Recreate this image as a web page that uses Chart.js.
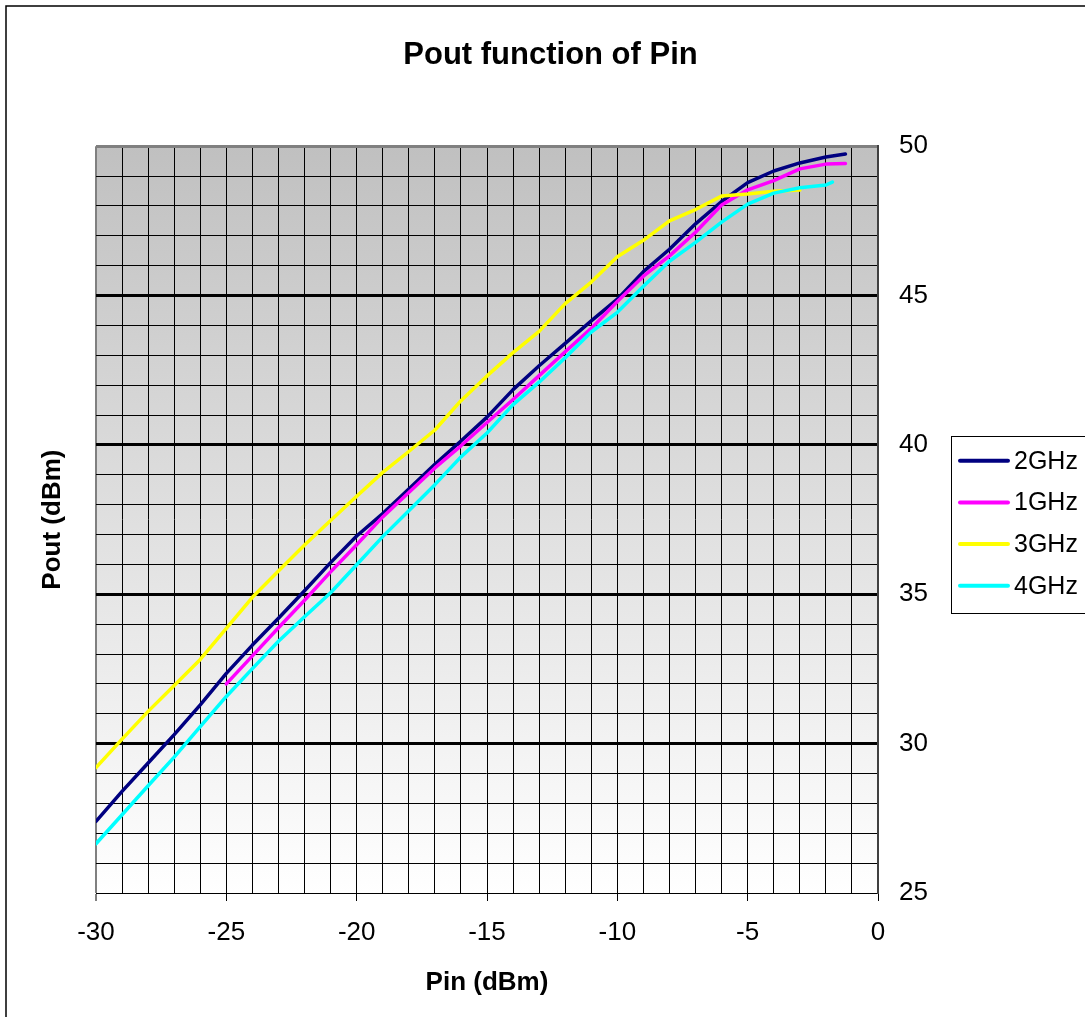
<!DOCTYPE html>
<html>
<head>
<meta charset="utf-8">
<title>Pout function of Pin</title>
<script src="https://cdn.jsdelivr.net/npm/chart.js@4/dist/chart.umd.min.js"></script>
<style>
  html, body { margin: 0; padding: 0; background: #fff; }
  canvas { display: block; }
</style>
</head>
<body>
<canvas id="poutChart" width="1085" height="1017"></canvas>
<script>
// Measured curves, Pin (dBm) -> Pout (dBm)
const pin2GHz = [-30, -29, -28, -27, -26, -25, -24, -23, -22, -21, -20, -19, -18, -17, -16, -15, -14, -13, -12, -11, -10, -9, -8, -7, -6, -5, -4, -3, -2, -1.25];
const pout2GHz = [27.4, 28.4, 29.35, 30.3, 31.3, 32.35, 33.3, 34.2, 35.12, 36.06, 36.95, 37.7, 38.52, 39.35, 40.13, 40.93, 41.85, 42.65, 43.4, 44.15, 44.88, 45.8, 46.55, 47.4, 48.15, 48.78, 49.17, 49.44, 49.64, 49.74];

const pin1GHz = [-25, -24, -23, -22, -21, -20, -19, -18, -17, -16, -15, -14, -13, -12, -11, -10, -9, -8, -7, -6, -5, -4, -3, -2, -1.25];
const pout1GHz = [32.0, 32.94, 33.88, 34.8, 35.75, 36.66, 37.59, 38.41, 39.23, 39.97, 40.75, 41.52, 42.32, 43.12, 43.9, 44.8, 45.65, 46.33, 47.12, 48.03, 48.54, 48.85, 49.24, 49.4, 49.42];

const pin3GHz = [-30, -29, -28, -27, -26, -25, -24, -23, -22, -21, -20, -19, -18, -17, -16, -15, -14, -13, -12, -11, -10, -9, -8, -7, -6, -5, -4, -3];
const pout3GHz = [29.2, 30.15, 31.08, 31.95, 32.82, 33.86, 34.9, 35.78, 36.65, 37.47, 38.28, 39.08, 39.78, 40.5, 41.48, 42.31, 43.09, 43.8, 44.73, 45.45, 46.3, 46.85, 47.5, 47.88, 48.33, 48.4, 48.49, 48.53];

const pin4GHz = [-30, -29, -28, -27, -26, -25, -24, -23, -22, -21, -20, -19, -18, -17, -16, -15, -14, -13, -12, -11, -10, -9, -8, -7, -6, -5, -4, -3, -2, -1.75];
const pout4GHz = [26.65, 27.62, 28.59, 29.55, 30.57, 31.58, 32.51, 33.43, 34.25, 35.05, 35.99, 36.93, 37.8, 38.67, 39.6, 40.4, 41.35, 42.1, 42.92, 43.78, 44.44, 45.31, 46.15, 46.78, 47.46, 48.06, 48.43, 48.61, 48.7, 48.8];

const seriesLabels = ['2GHz', '1GHz', '3GHz', '4GHz'];
const seriesColors = ['#000080', '#ff00ff', '#ffff00', '#00ffff'];

const pinMin = -30, pinMax = 0;
const poutMin = 25, poutMax = 50;

const FONT = "'Liberation Sans', Arial, sans-serif";

const toPoints = (xs, ys) => xs.map((x, i) => ({ x: x, y: ys[i] }));

/**
 * Plot background, outer frame and the boxed legend
 */
const chartDecor = {
  id: 'chartDecor',
  afterLayout(chart) {
    // title sits a little right of the canvas centre
    if (chart.titleBlock) {
      chart.titleBlock.left += 8;
      chart.titleBlock.right += 8;
    }
  },
  beforeDraw(chart) {
    const { ctx, chartArea: a } = chart;
    ctx.save();
    ctx.fillStyle = '#fff';
    ctx.fillRect(0, 0, chart.width, chart.height);

    ctx.strokeStyle = '#000';
    ctx.lineWidth = 1.5;
    ctx.beginPath();
    ctx.moveTo(6, chart.height + 5);
    ctx.lineTo(6, 6);
    ctx.lineTo(chart.width + 5, 6);
    ctx.stroke();

    const grad = ctx.createLinearGradient(0, a.top, 0, a.bottom);
    grad.addColorStop(0, '#c0c0c0');
    grad.addColorStop(1, '#ffffff');
    ctx.fillStyle = grad;
    ctx.fillRect(a.left, a.top, a.right - a.left, a.bottom - a.top);
    ctx.restore();
  },
  afterDraw(chart) {
    const { ctx } = chart;
    const box = { left: 951, top: 436, bottom: 613 };
    ctx.save();
    ctx.fillStyle = '#fff';
    ctx.fillRect(box.left, box.top, chart.width - box.left + 5, box.bottom - box.top);
    ctx.strokeStyle = '#000';
    ctx.lineWidth = 1;
    ctx.strokeRect(box.left + 0.5, box.top + 0.5, chart.width - box.left + 5, box.bottom - box.top);

    ctx.font = `25px ${FONT}`;
    ctx.textBaseline = 'middle';
    ctx.textAlign = 'left';
    chart.data.datasets.forEach((ds, i) => {
      const y = 460.7 + i * 41.7;
      ctx.strokeStyle = ds.borderColor;
      ctx.lineWidth = 4;
      ctx.lineCap = 'round';
      ctx.beginPath();
      ctx.moveTo(960, y);
      ctx.lineTo(1008, y);
      ctx.stroke();
      ctx.fillStyle = '#000';
      ctx.fillText(ds.label, 1014, y + 1);
    });
    ctx.restore();
  }
};

const makeDataset = (i, xs, ys) => ({
  label: seriesLabels[i],
  data: toPoints(xs, ys),
  borderColor: seriesColors[i],
  backgroundColor: seriesColors[i],
  borderWidth: 3.5,
  borderJoinStyle: 'round',
  borderCapStyle: 'round',
  pointRadius: 0,
  tension: 0,
  fill: false,
  order: 4 - i
});

const ctx = document.getElementById('poutChart').getContext('2d');

const poutChart = new Chart(ctx, {
  type: 'line',
  data: {
    datasets: [
      makeDataset(0, pin2GHz, pout2GHz),
      makeDataset(1, pin1GHz, pout1GHz),
      makeDataset(2, pin3GHz, pout3GHz),
      makeDataset(3, pin4GHz, pout4GHz)
    ]
  },
  options: {
    responsive: false,
    animation: false,
    devicePixelRatio: 1,
    layout: { padding: 0 },
    plugins: {
      legend: { display: false },
      tooltip: { enabled: false },
      title: {
        display: true,
        text: 'Pout function of Pin',
        color: '#000',
        font: { family: FONT, size: 31, weight: 'bold' },
        padding: { top: 37, bottom: 72 }
      }
    },
    scales: {
      x: {
        type: 'linear',
        position: 'bottom',
        min: pinMin,
        max: pinMax,
        afterFit: (scale) => { scale.height = 124; },
        ticks: {
          stepSize: 1,
          autoSkip: false,
          maxRotation: 0,
          padding: 16,
          color: '#000',
          font: { family: FONT, size: 26 },
          callback: (v) => (v % 5 === 0 ? String(v) : '')
        },
        grid: {
          color: (c) => (c.tick && c.tick.value === pinMin ? '#808080' : '#000'),
          lineWidth: (c) => (c.tick && c.tick.value === pinMin ? 2 : 1),
          tickColor: (c) => (c.tick && c.tick.value % 5 === 0 ? '#000' : 'rgba(0,0,0,0)'),
          tickLength: 8,
          tickWidth: 1
        },
        border: { display: true, color: '#000', width: 1 },
        title: {
          display: true,
          text: 'Pin (dBm)',
          color: '#000',
          font: { family: FONT, size: 26, weight: 'bold' },
          padding: { top: 0, bottom: 19 }
        }
      },
      y: {
        type: 'linear',
        position: 'right',
        min: poutMin,
        max: poutMax,
        afterFit: (scale) => { scale.width = 1085 - 878; },
        ticks: {
          stepSize: 1,
          autoSkip: false,
          padding: 21,
          color: '#000',
          font: { family: FONT, size: 26 },
          callback: (v) => (v % 5 === 0 ? String(v) : '')
        },
        grid: {
          drawTicks: false,
          color: (c) => (c.tick && c.tick.value === poutMax ? '#808080' : '#000'),
          lineWidth: (c) => {
            const v = c.tick ? c.tick.value : 0;
            if (v === poutMax) return 3;
            return v % 5 === 0 && v !== poutMin ? 3 : 1;
          }
        },
        border: { display: true, color: '#404040', width: 2 }
      },
      yTitle: {
        type: 'linear',
        position: 'left',
        min: poutMin,
        max: poutMax,
        afterFit: (scale) => { scale.width = 96; },
        ticks: { display: false },
        grid: { display: false, drawTicks: false },
        border: { display: false },
        title: {
          display: true,
          text: 'Pout (dBm)',
          color: '#000',
          font: { family: FONT, size: 26, weight: 'bold' },
          padding: { top: 37, bottom: 0 }
        }
      }
    }
  },
  plugins: [chartDecor]
});
</script>
</body>
</html>
